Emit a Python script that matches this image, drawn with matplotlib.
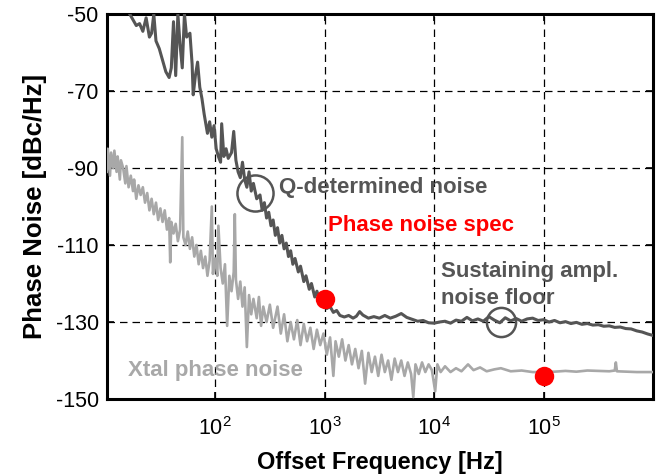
import numpy as np
import matplotlib
matplotlib.use("Agg")
import matplotlib.pyplot as plt
from matplotlib.ticker import FixedLocator, FuncFormatter

plt.rcParams['font.family'] = ['Liberation Sans', 'DejaVu Sans']
plt.rcParams['mathtext.default'] = 'regular'
plt.rcParams['axes.unicode_minus'] = False

# oscillator phase noise (log10 of offset frequency, dBc/Hz)
osc_logf = [1.22, 1.25, 1.28, 1.31, 1.34, 1.37, 1.40, 1.42, 1.44, 1.46, 1.49, 1.52,
            1.55, 1.58, 1.60, 1.62, 1.64, 1.66, 1.68, 1.70, 1.72, 1.74, 1.77, 1.79,
            1.80, 1.82, 1.84, 1.86, 1.88, 1.90, 1.93, 1.95, 1.97, 1.99, 2.01, 2.03,
            2.05, 2.06, 2.08, 2.10, 2.12, 2.15, 2.17, 2.19, 2.21, 2.23, 2.25, 2.27,
            2.29, 2.31, 2.33, 2.35, 2.38, 2.41, 2.43, 2.45, 2.47, 2.49, 2.51, 2.53,
            2.55, 2.57, 2.59, 2.61, 2.63, 2.65, 2.67, 2.69, 2.71, 2.73, 2.76, 2.78,
            2.81, 2.83, 2.86, 2.88, 2.91, 2.93, 2.96, 2.99, 3.02, 3.05, 3.08, 3.11,
            3.14, 3.18, 3.22, 3.26, 3.29, 3.32, 3.35, 3.40, 3.45, 3.50, 3.55, 3.60,
            3.65, 3.70, 3.75, 3.80, 3.85, 3.90, 3.95, 4.00, 4.05, 4.10, 4.15, 4.20,
            4.25, 4.30, 4.35, 4.40, 4.45, 4.50, 4.55, 4.60, 4.65, 4.70, 4.75, 4.80,
            4.85, 4.90, 4.95, 5.00, 5.05, 5.10, 5.15, 5.20, 5.25, 5.30, 5.35, 5.40,
            5.45, 5.50, 5.55, 5.60, 5.65, 5.70, 5.75, 5.80, 5.85, 5.90, 5.95, 6.00]
osc_pn = [-50, -51.5, -53, -52.5, -54.5, -51, -56, -55, -50, -57, -59, -62,
          -65, -66.5, -64, -52, -66, -50, -58, -64, -50, -56, -55, -63,
          -71, -66, -62.5, -69, -72, -76, -81, -78, -82, -79, -85, -87,
          -88.5, -78.5, -87, -85, -87.5, -86, -80.5, -88, -91, -92.5, -88.5, -93,
          -95, -91, -96, -94, -98, -97, -101, -99, -103, -101.5, -105, -103.5,
          -107.5, -105.5, -109.5, -107.5, -111, -109.5, -113, -111.5, -115, -113.5, -117, -115.5,
          -119.5, -118, -121.5, -120, -123.5, -122, -125, -124.5, -126.5, -126, -127.5, -127,
          -128.3, -128.7, -128.3, -129, -128.5, -127.3, -128.2, -129, -128.6, -129, -128.3, -129,
          -128.5, -127.8, -128.8, -129.3, -129.8, -129.6, -130.2, -130.3, -130, -129.8, -130.3, -129.5,
          -129.8, -128.8, -129.7, -129.2, -129.8, -128.6, -129.5, -130.2, -128.9, -129.7, -129.1, -129.8,
          -129.2, -129.0, -129.6, -129.4, -130, -129.6, -130.2, -129.9, -130.4, -130.1, -130.6, -130.4,
          -130.8, -130.7, -131.1, -131, -131.4, -131.3, -131.7, -131.8, -132.3, -132.6, -133.1, -133.5]

# crystal phase noise
xtal_logf = [1.01, 1.02, 1.04, 1.05, 1.07, 1.08, 1.10, 1.11, 1.13, 1.14, 1.16, 1.18,
             1.19, 1.21, 1.23, 1.25, 1.26, 1.28, 1.30, 1.32, 1.34, 1.36, 1.38, 1.40,
             1.42, 1.44, 1.46, 1.48, 1.50, 1.52, 1.54, 1.56, 1.58, 1.59, 1.60, 1.62,
             1.64, 1.66, 1.68, 1.70, 1.71, 1.73, 1.75, 1.77, 1.79, 1.81, 1.83, 1.85,
             1.87, 1.89, 1.91, 1.93, 1.95, 1.97, 1.98, 2.00, 2.02, 2.03, 2.05, 2.07,
             2.09, 2.11, 2.13, 2.15, 2.17, 2.18, 2.19, 2.21, 2.23, 2.25, 2.27, 2.29,
             2.31, 2.33, 2.35, 2.38, 2.40, 2.42, 2.44, 2.47, 2.50, 2.53, 2.57, 2.60,
             2.63, 2.66, 2.69, 2.72, 2.75, 2.78, 2.81, 2.84, 2.87, 2.90, 2.93, 2.96,
             2.99, 3.02, 3.05, 3.08, 3.10, 3.13, 3.16, 3.19, 3.22, 3.25, 3.28, 3.31,
             3.34, 3.37, 3.40, 3.43, 3.46, 3.49, 3.52, 3.55, 3.58, 3.61, 3.64, 3.67,
             3.70, 3.73, 3.76, 3.79, 3.81, 3.83, 3.86, 3.89, 3.92, 3.95, 3.98, 4.01,
             4.03, 4.06, 4.10, 4.15, 4.20, 4.25, 4.31, 4.36, 4.42, 4.48, 4.55, 4.61,
             4.70, 4.80, 4.90, 5.00, 5.10, 5.20, 5.30, 5.40, 5.50, 5.60, 5.65, 5.66,
             5.67, 5.75, 5.85, 6.00]
xtal_pn = [-91, -85, -92, -86, -90, -85.5, -91, -87, -93, -88, -90, -94,
           -89.5, -95, -92, -96, -93, -98, -94.5, -97, -95, -99, -96.5, -101,
           -98, -102, -99, -103.5, -100.5, -104, -101, -106, -103, -114.5, -104, -107,
           -104.5, -109, -106, -82, -108, -110, -106.5, -111, -108, -113, -110, -115,
           -111.5, -116, -113, -118, -114, -100, -117.5, -113.5, -118, -105, -116, -120,
           -115, -131, -118, -122, -117, -102, -119, -124, -119.5, -126, -121, -136.5,
           -123, -128, -124, -129, -123.5, -131, -126, -130, -125.5, -131.5, -126, -133,
           -128, -135, -130, -134.5, -129.5, -136, -130.5, -135, -131.5, -137, -132, -136,
           -133, -138.5, -134, -144, -135, -139, -134.5, -140, -136, -141, -137, -142,
           -137.5, -146, -138, -143, -139, -144, -138.5, -143, -140, -145, -139.5, -143,
           -140, -144, -140.5, -143.5, -149.5, -141, -143.5, -140.5, -143, -141, -142.5, -148,
           -141, -143, -141.5, -143, -142, -142.8, -141, -142.5, -141.8, -142.8, -142.3, -142,
           -142.8, -142.6, -143, -143, -142.9, -142.7, -142.9, -142.6, -142.7, -142.8, -142.6, -140.5,
           -142.8, -142.9, -143, -143]

spec_f = [1e3, 1e5]
spec_pn = [-124, -144]

# circled regions
q_circle = (232, -96.5)
floor_circle = (40500, -130)

dark = '#555555'
light = '#a8a8a8'

fig = plt.figure(figsize=(6.59, 4.74), dpi=100)
ax = fig.add_axes([0.1624, 0.1582, 0.8286, 0.8123])

ax.plot(10 ** np.array(xtal_logf), xtal_pn, color=light, lw=1.9, zorder=3)
ax.plot(10 ** np.array(osc_logf), osc_pn, color=dark, lw=2.2, zorder=4)
ax.plot(spec_f, spec_pn, 'o', color='#ff0000', ms=14, mec='none', zorder=6)
ax.plot(*q_circle, 'o', mfc='none', mec=dark, ms=26, mew=1.8, zorder=5)
ax.plot(*floor_circle, 'o', mfc='none', mec=dark, ms=21, mew=1.8, zorder=5)

ax.set_xscale('log')
ax.set_xlim(10.3, 1.0e6)
ax.set_ylim(-150, -50)
ax.xaxis.set_major_locator(FixedLocator([1e2, 1e3, 1e4, 1e5]))
ax.xaxis.set_minor_locator(FixedLocator([]))
ax.xaxis.set_major_formatter(FuncFormatter(lambda v, p: r'$10^{%d}$' % round(np.log10(v))))
ax.set_yticks([-150, -130, -110, -90, -70, -50])

ax.grid(True, color='black', linestyle=(0, (6, 4)), linewidth=0.9)
ax.set_axisbelow(True)
ax.tick_params(direction='in', length=5, width=1.2, top=True, right=True,
               labelsize=15.5, pad=6)
ax.tick_params(axis='x', pad=13)
for s in ax.spines.values():
    s.set_linewidth(2.2)

ax.set_xlabel('Offset Frequency [Hz]', fontsize=17, fontweight='bold', labelpad=8)
ax.set_ylabel('Phase Noise [dBc/Hz]', fontsize=18.5, fontweight='bold', labelpad=6)

ax.text(380, -95, 'Q-determined noise', color=dark, fontsize=16, fontweight='bold', va='center')
ax.text(1.0e3 * 1.08, -105, 'Phase noise spec', color='#ff0000', fontsize=16, fontweight='bold', va='center')
ax.text(11500, -117, 'Sustaining ampl.', color=dark, fontsize=16, fontweight='bold', va='center')
ax.text(11500, -123.8, 'noise floor', color=dark, fontsize=16, fontweight='bold', va='center')
ax.text(16, -142.5, 'Xtal phase noise', color=light, fontsize=16, fontweight='bold', va='center')

fig.savefig('out.png', dpi=100)
